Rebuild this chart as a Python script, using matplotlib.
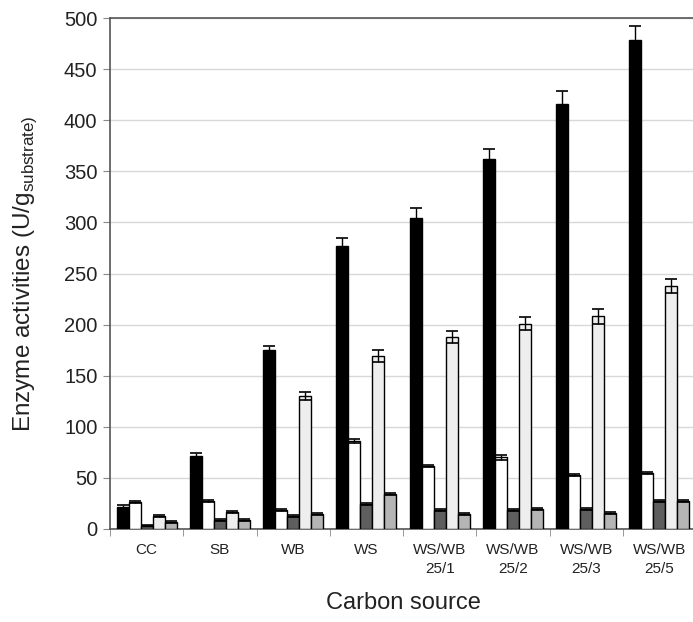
import matplotlib
matplotlib.use("Agg")
import matplotlib.pyplot as plt
import numpy as np

plt.rcParams["font.family"] = ["Liberation Sans", "DejaVu Sans"]
plt.rcParams["mathtext.fontset"] = "custom"
plt.rcParams["mathtext.rm"] = "Liberation Sans"

# data
sources = ["CC", "SB", "WB", "WS", "WS/WB\n25/1", "WS/WB\n25/2", "WS/WB\n25/3", "WS/WB\n25/5"]
black_vals = [22, 71, 175, 277, 304, 362, 416, 478]
black_err = [1, 3, 4, 8, 10, 10, 13, 14]
white_vals = [26, 27, 19, 86, 62, 70, 53, 55]
white_err = [1, 1, 1, 2, 1, 2, 1, 1]
dark_vals = [3, 9, 13, 24, 19, 19, 20, 27]
dark_err = [0.5, 1, 1, 1, 1, 1, 1, 1]
light_vals = [13, 17, 130, 169, 188, 201, 208, 238]
light_err = [1, 1, 4, 6, 6, 6, 7, 7]
mid_vals = [7, 9, 15, 34, 15, 20, 16, 27]
mid_err = [1, 1, 1, 1, 1, 1, 1, 1]

series = [
    (black_vals, black_err, "#000000"),
    (white_vals, white_err, "#ffffff"),
    (dark_vals, dark_err, "#5e5e5e"),
    (light_vals, light_err, "#eeeeee"),
    (mid_vals, mid_err, "#b5b5b5"),
]

fig = plt.figure(figsize=(6.93, 6.22), dpi=100)
ax = fig.add_axes([110 / 693, 93 / 622, 586 / 693, 511 / 622])

x = np.arange(len(sources))
w = 0.164
for i, (vals, err, col) in enumerate(series):
    pos = x + (i - 2) * w
    ax.bar(pos, vals, w, color=col, edgecolor="black", linewidth=1.0, zorder=3)
    ax.errorbar(pos, vals, yerr=err, fmt="none",
                ecolor="black", elinewidth=1.0, capsize=4.2, capthick=1.2, zorder=4)

ax.set_xlim(-0.5, len(sources) - 0.5)
ax.set_ylim(0, 500)
ax.set_yticks(np.arange(0, 501, 50))
ax.yaxis.grid(True, color="#d8d8d8", linewidth=1.0, zorder=0)
ax.set_axisbelow(True)

ax.set_xticks(x)
ax.set_xticklabels(sources, fontsize=11, color="#222222", linespacing=1.5)
ax.set_xticks(np.arange(-0.5, len(sources), 1), minor=True)
ax.tick_params(axis="x", which="major", length=0, pad=10)
ax.tick_params(axis="x", which="minor", length=5, color="#888888")
ax.tick_params(axis="y", length=5, color="#888888", labelsize=14.5, labelcolor="#222222", pad=4)

for s in ["left", "bottom", "top"]:
    ax.spines[s].set_color("#555555")
    ax.spines[s].set_linewidth(1.2)
ax.spines["right"].set_visible(False)

ax.set_xlabel("Carbon source", fontsize=17, color="#222222", labelpad=11)
ax.set_ylabel(r"Enzyme activities (U/g$_{\rm substrate)}$", fontsize=17.5, color="#222222", labelpad=18)

fig.savefig("out.png", dpi=100)
